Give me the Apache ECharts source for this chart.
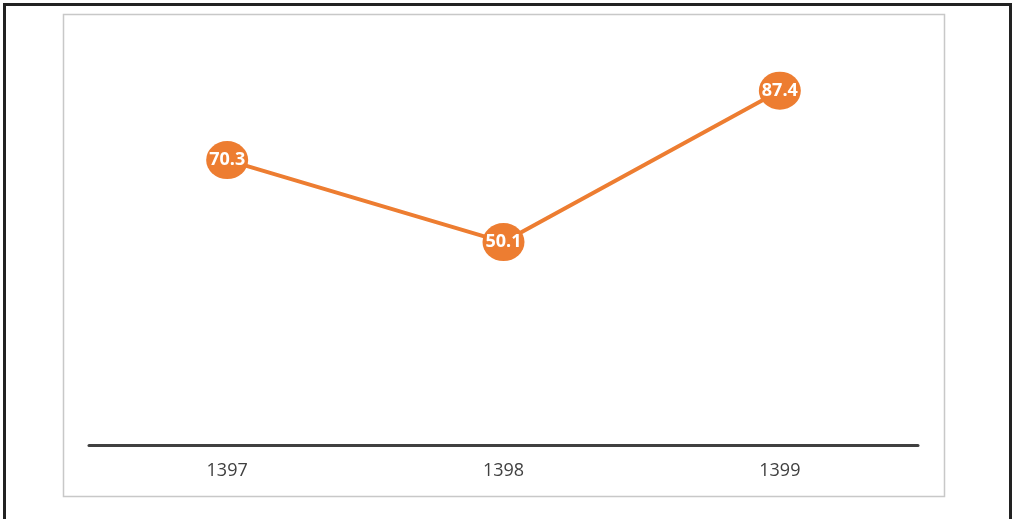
<!DOCTYPE html>
<html>
<head>
<meta charset="utf-8">
<script src="https://cdn.jsdelivr.net/npm/echarts@6/dist/echarts.min.js"></script>
<style>
  html, body { margin: 0; padding: 0; background: #fff; }
  #chart { width: 1014px; height: 519px; }
</style>
</head>
<body>
<div id="chart"></div>
<script>
const years = ["1397", "1398", "1399"]
const values = [70.3, 50.1, 87.4]

const chart = echarts.init(document.getElementById("chart"))

chart.setOption({
    animation: false,
    backgroundColor: "#fff",
    // frame lines around the picture and the plot area
    graphic: [
        {
            type: "polyline",
            shape: { points: [[4.5, 519], [4.5, 4.5], [1010.5, 4.5], [1010.5, 519]] },
            style: { stroke: "#222", lineWidth: 3, fill: null },
            silent: true
        },
        {
            type: "rect",
            shape: { x: 63.5, y: 14.5, width: 881, height: 482 },
            style: { stroke: "#c8c8c8", lineWidth: 1.5, fill: null },
            silent: true,
            z: -1
        }
    ],
    grid: { left: 89, width: 829, top: 39.5, bottom: 73.5 },
    xAxis: {
        type: "category",
        data: years,
        axisLine: { lineStyle: { color: "#404040", width: 3 } },
        axisTick: { show: false },
        axisLabel: {
            color: "#404040",
            fontFamily: "Open Sans",
            fontSize: 18,
            margin: 16
        }
    },
    yAxis: {
        type: "value",
        min: 0,
        max: 100,
        show: false
    },
    series: [{
        type: "line",
        data: values,
        symbol: "circle",
        symbolSize: [42, 38],
        lineStyle: { color: "#ED7D31", width: 4 },
        itemStyle: { color: "#ED7D31" },
        label: {
            show: true,
            position: "inside",
            color: "#fff",
            fontFamily: "Open Sans",
            fontWeight: "bold",
            fontSize: 18
        }
    }]
})
</script>
</body>
</html>
